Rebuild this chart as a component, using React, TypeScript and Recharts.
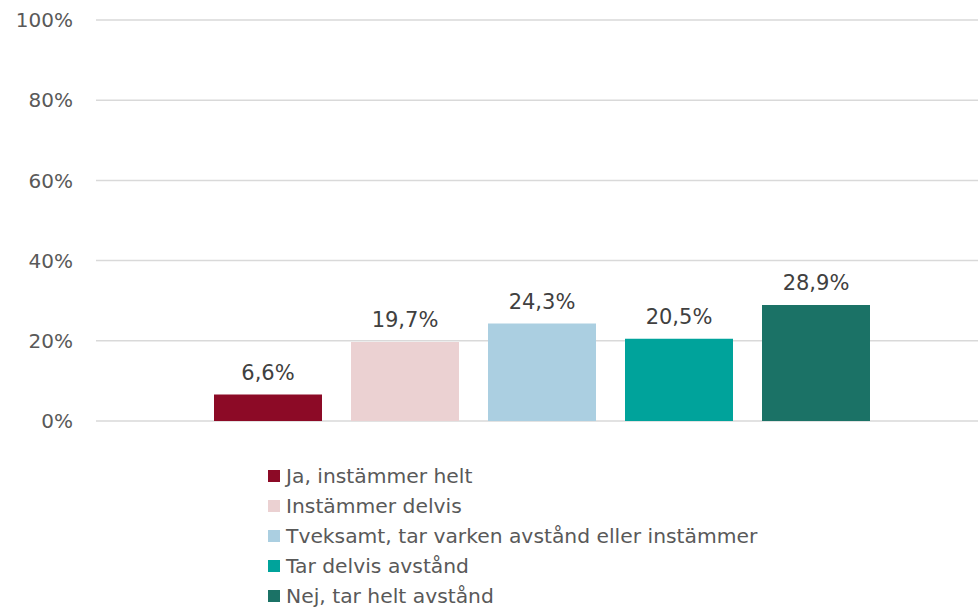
import React from "react";
import { BarChart, Bar, XAxis, YAxis, CartesianGrid, Legend, LabelList } from "recharts";

// One category, five answer alternatives
const categories = [""];
const seriesNames = [
  "Ja, instämmer helt",
  "Instämmer delvis",
  "Tveksamt, tar varken avstånd eller instämmer",
  "Tar delvis avstånd",
  "Nej, tar helt avstånd",
];
const seriesValues = [6.6, 19.7, 24.3, 20.5, 28.9];
const seriesColors = ["#8C0A26", "#EBD1D2", "#ABCFE1", "#00A39B", "#1B7266"];
const yTicks = [0, 20, 40, 60, 80, 100];

const FONT = "'DejaVu Sans', Arial, sans-serif";

const keys = seriesNames.map((_, i) => `s${i}`);
const data = categories.map((name) => {
  const row: Record<string, string | number> = { name };
  keys.forEach((k, i) => (row[k] = seriesValues[i]));
  return row;
});

const fmt = (v: any) => `${Number(v).toFixed(1).replace(".", ",")}%`;

const LegendContent = () => (
  <div style={{ fontFamily: FONT, fontSize: 20.3, color: "#595959" }}>
    {seriesNames.map((n, i) => (
      <div key={n} style={{ display: "flex", alignItems: "center", height: 30, whiteSpace: "nowrap" }}>
        <span style={{ display: "inline-block", width: 12, height: 12, background: seriesColors[i], marginRight: 6 }} />
        <span>{n}</span>
      </div>
    ))}
  </div>
);

export default function App() {
  return (
    <div style={{ width: 978, height: 609, overflow: "hidden", position: "relative" }}>
      <style>{`body{margin:0;}`}</style>
      <BarChart
        width={988}
        height={609}
        data={data}
        margin={{ top: 20, right: 0, bottom: 188, left: 0 }}
        barSize={108}
        barGap={29}
      >
        <CartesianGrid vertical={false} stroke="#d9d9d9" strokeWidth={1.5} />
        <XAxis dataKey="name" hide />
        <YAxis
          width={96}
          domain={[0, 100]}
          ticks={yTicks}
          tickFormatter={(v) => `${v}%`}
          axisLine={false}
          tickLine={false}
          tickSize={0}
          tickMargin={23}
          tick={{ fill: "#595959", fontSize: 20, fontFamily: FONT }}
        />
        <Legend
          layout="vertical"
          align="center"
          verticalAlign="middle"
          content={<LegendContent />}
          wrapperStyle={{ top: 461, left: 268, width: "auto" }}
        />
        {keys.map((k, i) => (
          <Bar key={k} dataKey={k} name={seriesNames[i]} fill={seriesColors[i]} isAnimationActive={false}>
            <LabelList
              dataKey={k}
              position="top"
              offset={15}
              formatter={fmt}
              style={{ fill: "#404040", fontSize: 21, fontFamily: FONT }}
            />
          </Bar>
        ))}
      </BarChart>
    </div>
  );
}
